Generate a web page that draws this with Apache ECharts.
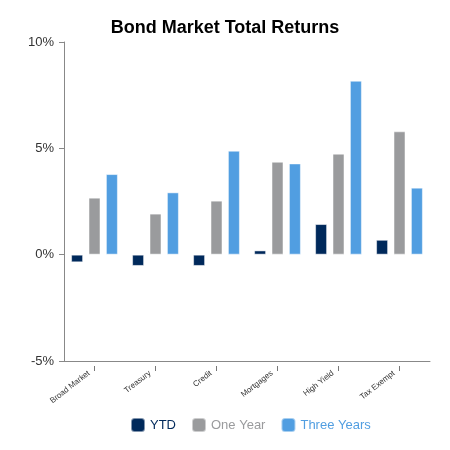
<!DOCTYPE html>
<html>
<head>
<meta charset="utf-8">
<script src="https://cdn.jsdelivr.net/npm/echarts@6/dist/echarts.min.js"></script>
<style>
  html, body { margin: 0; padding: 0; background: #fff; }
  #chart { width: 450px; height: 450px; }
</style>
</head>
<body>
<div id="chart"></div>
<script>
// categories and series values (%)
var categories = ['Broad Market', 'Treasury', 'Credit', 'Mortgages', 'High Yield', 'Tax Exempt'];
var ytd = [-0.36, -0.53, -0.53, 0.2, 1.44, 0.7];
var oneYear = [2.68, 1.93, 2.54, 4.37, 4.75, 5.8];
var threeYears = [3.79, 2.93, 4.89, 4.29, 8.18, 3.15];

var colors = ['#00295b', '#9a9b9d', '#519ee1'];

var chart = echarts.init(document.getElementById('chart'));

function barSeries(name, data, color) {
  return {
    name: name,
    type: 'bar',
    xAxisIndex: 0,
    data: data,
    barWidth: 12,
    barGap: '45%',
    itemStyle: { color: color, borderColor: 'rgba(255,255,255,0.5)', borderWidth: 1 }
  };
}

chart.setOption({
  animation: false,
  title: {
    text: 'Bond Market Total Returns',
    left: 'center',
    top: 14,
    textStyle: { fontFamily: 'Liberation Sans', fontSize: 18, fontWeight: 'bold', color: '#000' }
  },
  legend: {
    bottom: 12,
    left: 125,
    itemWidth: 14,
    itemHeight: 14,
    itemGap: 15,
    icon: 'roundRect',
    textStyle: { fontFamily: 'Liberation Sans', fontSize: 13 },
    data: [
      { name: 'YTD', textStyle: { color: colors[0] } },
      { name: 'One Year', textStyle: { color: colors[1] } },
      { name: 'Three Years', textStyle: { color: colors[2] } }
    ]
  },
  grid: { left: 64, right: 20, top: 42, bottom: 89 },
  xAxis: [
    {
      type: 'category',
      data: categories,
      axisLine: { onZero: false, lineStyle: { color: '#888' } },
      axisTick: { show: false },
      axisLabel: { show: false }
    },
    {
      type: 'category',
      data: categories,
      position: 'bottom',
      offset: 5,
      axisLine: { show: false, onZero: false },
      axisTick: { show: true, alignWithLabel: true, length: 5, lineStyle: { color: '#777' } },
      axisLabel: {
        rotate: 38,
        fontFamily: 'Liberation Sans',
        fontSize: 8,
        color: '#333',
        margin: 2,
        padding: [0, 7, 0, 0]
      }
    }
  ],
  yAxis: {
    type: 'value',
    min: -5,
    max: 10,
    interval: 5,
    axisLine: { show: true, lineStyle: { color: '#888' } },
    axisTick: { show: true, length: 5, lineStyle: { color: '#888' } },
    splitLine: { show: false },
    axisLabel: {
      formatter: '{value}%',
      fontFamily: 'Liberation Sans',
      fontSize: 13,
      color: '#333',
      margin: 10
    }
  },
  series: [
    barSeries('YTD', ytd, colors[0]),
    barSeries('One Year', oneYear, colors[1]),
    barSeries('Three Years', threeYears, colors[2])
  ]
});
</script>
</body>
</html>
